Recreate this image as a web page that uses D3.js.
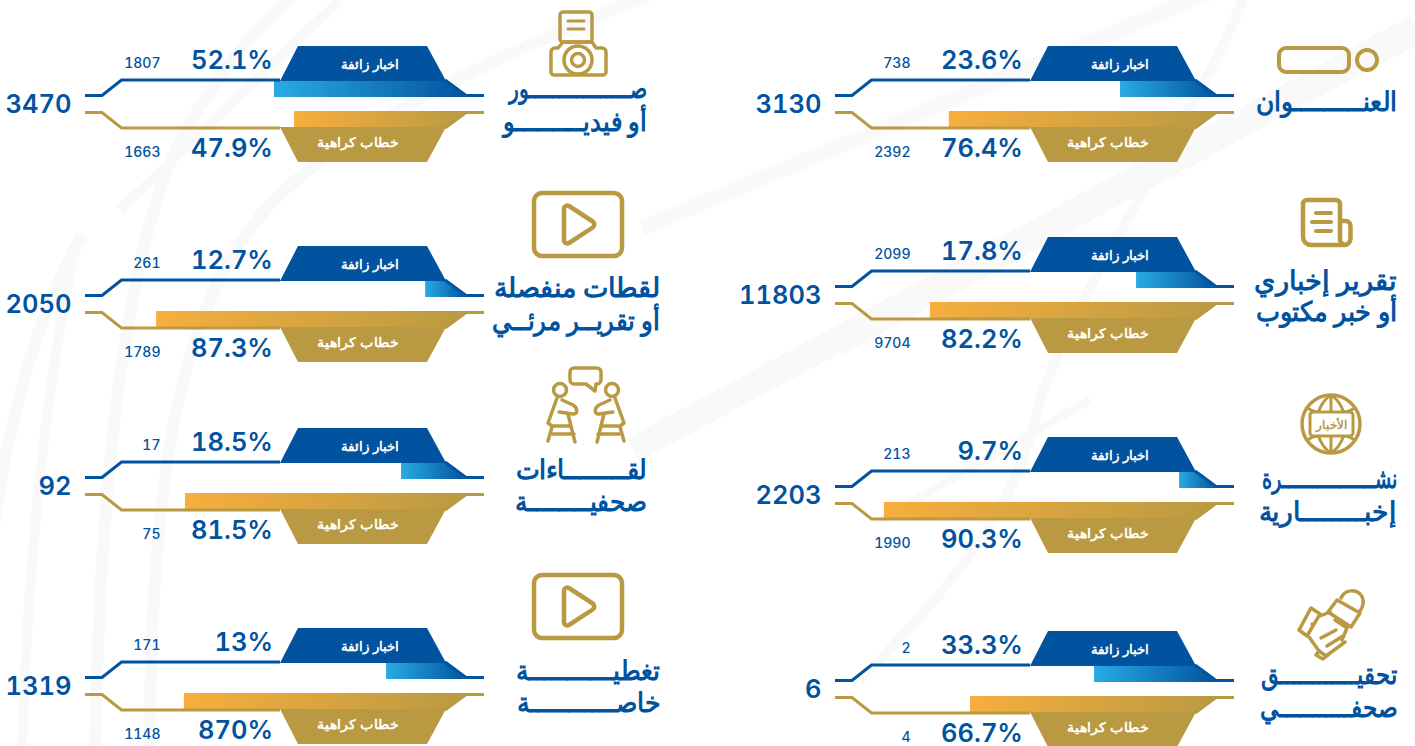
<!DOCTYPE html>
<html lang="ar"><head><meta charset="utf-8">
<script src="https://cdn.jsdelivr.net/npm/d3@7"></script>
<style>
html,body{margin:0;padding:0;background:#fff;overflow:hidden}
svg{display:block}
text{font-family:"Noto Sans",Roboto,sans-serif}
.num{font-family:Inter,Roboto,sans-serif;font-variant-numeric:tabular-nums;font-feature-settings:"tnum"}
</style></head><body><svg id="c" width="1415" height="746"></svg>
<script>
// ---- data ----
const titles = [
  ["العنـــــــــوان"],
  ["تقرير إخباري","أو خبر مكتوب"],
  ["نشــــــــــــــــرة","إخبــــــــارية"],
  ["تحقيــــــــــــق","صحفـــــــــــي"],
  ["صـــــــــــــــــور","أو فيديـــــــــو"],
  ["لقطات منفصلة","أو تقريــر مرئــي"],
  ["لقــــــــاءات","صحفيــــــــة"],
  ["تغطيـــــــــــة","خاصـــــــــــة"]
];
const totals     = [3130,11803,2203,6,3470,2050,92,1319];
const fakeCounts = [738,2099,213,2,1807,261,17,171];
const hateCounts = [2392,9704,1990,4,1663,1789,75,1148];
const fakeLabels = ["23.6%","17.8%","9.7%","33.3%","52.1%","12.7%","18.5%","13%"];
const hateLabels = ["76.4%","82.2%","90.3%","66.7%","47.9%","87.3%","81.5%","870%"];
// bar lengths as drawn in the picture, in percent
const fakeBars = [26.3,21.9,10.1,33.4,52.6,11.2,17.8,21.9];
const hateBars = [73.2,78.4,91,67.4,47.1,84.9,77,77.3];
const fakeName = "اخبار زائفة";
const hateName = "خطاب كراهية";

// ---- layout ----
const BLUE="#02539f", GOLD="#b99a42";
const panelCol  = [0,0,0,0,1,1,1,1];
const panelTop  = [46,237,437,631,46,246,428,628];
const titleRight= [1397,1397,1397,1397,647,660,647,660];
const titleY    = [111,290,488,684,98,297,479,680];
const titleGap  = [0,31,33,33,33,33,32,32];
const titleW    = [[139],[143,143],[135,137],[140,142],[139,140],[166,169],[131,128],[140,140]];
const colShift = d3.scaleOrdinal([0,1],[0,-750]);
const barLen = d3.scaleLinear([0,100],[0,365]);

const svg=d3.select("#c");
const defs=svg.append("defs");
function grad(id,a,b){const g=defs.append("linearGradient").attr("id",id);
  g.append("stop").attr("offset",0).attr("stop-color",a);
  g.append("stop").attr("offset",1).attr("stop-color",b);}
grad("gb","#29abe2",BLUE); grad("gg","#f7ae3e",GOLD);

// faint background strokes
const bg=svg.append("g").attr("fill","none").attr("stroke","#f9f9f9");
[["M-10,560C5,420 40,310 82,235",12],
 ["M72,265C50,370 30,520 22,746",10],
 ["M95,746C100,500 120,280 175,150C210,85 250,30 300,-10",12],
 ["M150,746C150,480 180,300 270,205C340,130 480,60 700,-25",12],
 ["M642,228L1240,-20",15],
 ["M633,450L1415,28",26],
 ["M840,350L1415,40",10],
 ["M1245,-5C1190,130 1090,260 1040,400C1020,500 960,580 860,680",10],
 ["M880,520L1090,400",8],
 ["M120,210L340,0",10]
].forEach(([d,w])=>bg.append("path").attr("d",d).attr("stroke-width",w));

const line=d3.line();
const mirror=(top,pts)=>pts.map(([x,y])=>[x,2*top+116-y]); // flips a shape about the panel's centre

// right-to-left text squeezed or stretched to the width it has in the picture
function fitted(parent,x,y,s,w,size,weight,fill,dy){
  const el=parent.append("text").attr("direction","rtl").attr("text-anchor","start")
    .attr("dy",dy||0).attr("font-size",size).attr("font-weight",weight).attr("fill",fill).text(s);
  const natural=el.node().getComputedTextLength();
  el.attr("transform",`translate(${x},${y}) scale(${w/natural},1)`);
  return el;
}

function panel(i){
  const dx=colShift(panelCol[i]), t=panelTop[i];
  const g=svg.append("g").attr("transform",`translate(${dx},0)`);
  const yT=t, yL=t+34, yM=t+49.5;   // trapezoid top, shoulder, centre rail
  const R=1216;
  const half=(color,gradId,len,mir)=>{
    const f=p=>mir?mirror(t,p):p;
    const x0=R-barLen(len);
    g.append("path").attr("d",line(f([[x0,yL+1],[1195,yL+1],[R,yM+1.5],[x0,yM+1.5]]))+"Z").attr("fill",`url(#${gradId})`);
    g.append("path").attr("d",line(f([[1030,yL+1],[1048,yT],[1177,yT],[1195.5,yL],[1197,yL+1]]))+"Z").attr("fill",color);
    g.append("path").attr("d",line(f([[835,yM],[852,yM],[871.5,yL],[1030,yL]]))).attr("fill","none").attr("stroke",color).attr("stroke-width",3);
    g.append("path").attr("d",line(f([[1195,yL],[1216,yM],[1234,yM]]))).attr("fill","none").attr("stroke",color).attr("stroke-width",3);
  };
  half(BLUE,"gb",fakeBars[i],false);
  half(GOLD,"gg",hateBars[i],true);
  const txt=(x,y,s,size,weight)=>g.append("text").attr("class","num").attr("x",x).attr("y",y).attr("dy","0.36em")
     .attr("text-anchor","end").attr("font-size",size).attr("font-weight",weight).attr("fill",BLUE).text(s);
  fitted(g,1149,t+18.5,fakeName,59,13,600,"#fff","0.36em");
  fitted(g,1149,t+96,hateName,80,13,600,"#fff","0.36em");
  txt(1023,t+13.5,fakeLabels[i],25.5,600);
  txt(1023,t+101.5,hateLabels[i],25.5,600);
  txt(910.5,t+17,fakeCounts[i],14,500);
  txt(910.5,t+106,hateCounts[i],14,500);
  txt(821.5,t+58,totals[i],25.5,600);
  const tg=svg.append("g");
  titles[i].forEach((s,k)=>fitted(tg,titleRight[i],titleY[i]+k*titleGap[i],s,titleW[i][k],27,600,BLUE));
}
d3.range(8).forEach(panel);

// ---- icons ----
const ic=svg.append("g").attr("fill","none").attr("stroke",GOLD).attr("stroke-width",4).attr("stroke-linecap","round").attr("stroke-linejoin","round");
const P=(d,sw,par)=>(par||ic).append("path").attr("d",d).attr("stroke-width",sw||4);
const play=y=>{P(`M542,${y}h72a8,8 0 0 1 8,8v47a8,8 0 0 1 -8,8h-72a8,8 0 0 1 -8,-8v-47a8,8 0 0 1 8,-8z`,4.5);
  P(`M564,${y+16}c0,-3 3,-4 5,-3L592,${y+28}c3,2 3,5 0,7L569,${y+50}c-2,1 -5,0 -5,-3z`,4.5);};
// pill & dot
P("M1286,48h56a7,7 0 0 1 7,7v10a7,7 0 0 1 -7,7h-56a7,7 0 0 1 -7,-7v-10a7,7 0 0 1 7,-7z");
ic.append("circle").attr("cx",1367).attr("cy",60).attr("r",10);
// document
P("M1340,238V204a4,4 0 0 0 -4,-4H1307a4,4 0 0 0 -4,4V237a8,8 0 0 0 8,8H1344a6.5,6.5 0 0 0 6.5,-6.5V226a5,5 0 0 0 -5,-5H1340",4.5);
P("M1340,238a6,6 0 0 0 5,7",4.5);
P("M1316,213h15M1312,222h19M1316,231h15",4);
// globe
const gl=ic.append("g").attr("stroke-width",3);
gl.append("circle").attr("cx",1331).attr("cy",424).attr("r",29).attr("stroke-width",3.5);
gl.append("path").attr("d","M1331,395V453M1331,395C1312,407 1312,441 1331,453M1331,395C1350,407 1350,441 1331,453M1307,408C1320,416 1342,416 1355,408M1307,440C1320,432 1342,432 1355,440");
ic.append("rect").attr("x",1310).attr("y",412).attr("width",43).attr("height",24).attr("rx",3).attr("fill","#fff").attr("stroke-width",3);
ic.append("text").attr("x",1331.5).attr("y",429).attr("text-anchor","middle").attr("direction","rtl").attr("stroke","none").attr("fill",GOLD).attr("font-size",12).attr("font-weight",800).text("الأخبار");
// hand & microphone
P("M1337,600L1360,613L1351,627L1328,612Z",3.5);
P("M1341,598C1345,589 1356,589 1361,595C1365,600 1363,607 1360,611",3.5);
P("M1299,630L1311,608L1320,614L1307,636Z",3.5);
P("M1320,616L1330,612M1309,637L1319,651M1335,620L1347,628L1342,640",3.5);
P("M1319,651L1326,656L1345,642M1321,638L1336,630M1327,646L1343,636M1312,624v0",3.5);
P("M1319,651L1316,655L1323,659L1328,655",3.5);
// camera
P("M563,12h26a3,3 0 0 1 3,3v24a3,3 0 0 1 -3,3h-26a3,3 0 0 1 -3,-3v-24a3,3 0 0 1 3,-3z",3.5);
P("M568,21h16M568,29h16",3);
P("M558,48H555a4,4 0 0 0 -4,4V72a3,3 0 0 0 3,3H603a3,3 0 0 0 3,-3V52a4,4 0 0 0 -4,-4H596L592,42H563Z",3.5);
ic.append("circle").attr("cx",578).attr("cy",60).attr("r",14).attr("stroke-width",3.5);
ic.append("circle").attr("cx",578).attr("cy",60).attr("r",6.5).attr("stroke-width",3.5);
// play rectangles
play(193); play(575);
// two people
P("M574,368h23a4,4 0 0 1 4,4v8a4,4 0 0 1 -4,4h-1l-1,7l-9,-7h-12a4,4 0 0 1 -4,-4v-8a4,4 0 0 1 4,-4z",3.5);
[0,1].forEach(m=>{
  const pg=ic.append("g").attr("transform",m?"translate(1172,0) scale(-1,1)":null);
  pg.append("circle").attr("cx",560).attr("cy",390).attr("r",6.5).attr("stroke-width",3.5);
  P("M557,398L548,423L552,426H570M552,427L548,441M553,434H574M568,414L575,442M562,400L573,405C578,408 578,414 573,414L559,412",3.5,pg);
});
</script></body></html>
